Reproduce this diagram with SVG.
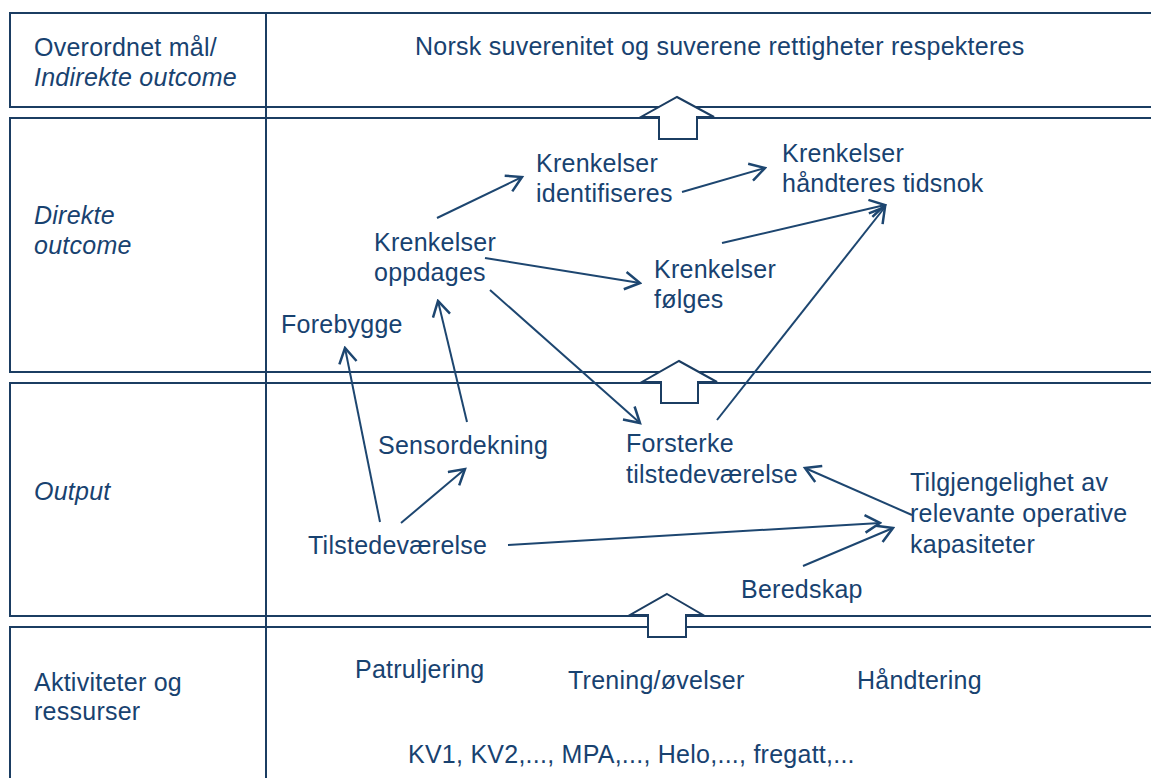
<svg xmlns="http://www.w3.org/2000/svg" width="1151" height="778" viewBox="0 0 1151 778">
<defs>
<style>
.row{fill:none;stroke:#1b3d62;stroke-width:2}
.blk{fill:#fff;stroke:#1b3d62;stroke-width:2;stroke-linejoin:miter}
.t{font-family:"Liberation Sans",Arial,sans-serif;font-size:25px;fill:#184270;letter-spacing:0.25px}
.i{font-style:italic}
.c{fill:none;stroke:#1d4670;stroke-width:2}
</style>
<marker id="ah" markerUnits="userSpaceOnUse" markerWidth="20" markerHeight="20" viewBox="0 0 16 16" refX="14" refY="8" orient="auto">
<path d="M2,1 L14,8 L2,15" fill="none" stroke="#1d4670" stroke-width="2"/>
</marker>
</defs>
<rect width="1151" height="778" fill="#fff"/>
<g id="rows">
<rect class="row" x="10" y="13" width="1160" height="94"/>
<rect class="row" x="10" y="118" width="1160" height="254"/>
<rect class="row" x="10" y="383" width="1160" height="233"/>
<rect class="row" x="10" y="627" width="1160" height="170"/>
<line class="row" x1="266" y1="13" x2="266" y2="778"/>
</g>
<g id="block-arrows">
<path class="blk" d="M677,97 L714,117 L697,117 L697,139 L659,139 L659,117 L641,117 Z"/>
<path class="blk" d="M679,361 L717,382 L698,382 L698,403 L661,403 L661,382 L642,382 Z"/>
<path class="blk" d="M667,594 L703,615 L686,615 L686,637 L648,637 L648,615 L630,615 Z"/>
</g>
<g id="row-labels">
<text class="t" x="34" y="56">Overordnet mål/</text>
<text class="t i" x="34" y="86">Indirekte outcome</text>
<text class="t i" x="34" y="224">Direkte</text>
<text class="t i" x="34" y="254">outcome</text>
<text class="t i" x="34" y="500">Output</text>
<text class="t" x="34" y="691">Aktiviteter og</text>
<text class="t" x="34" y="720">ressurser</text>
</g>
<g id="goal"><text class="t" x="415" y="55">Norsk suverenitet og suverene rettigheter respekteres</text></g>
<g id="identifiseres"><text class="t" x="536" y="172">Krenkelser</text><text class="t" x="536" y="202">identifiseres</text></g>
<g id="handteres"><text class="t" x="782" y="162">Krenkelser</text><text class="t" x="782" y="192">håndteres tidsnok</text></g>
<g id="oppdages"><text class="t" x="374" y="251">Krenkelser</text><text class="t" x="374" y="281">oppdages</text></g>
<g id="folges"><text class="t" x="654" y="278">Krenkelser</text><text class="t" x="654" y="308">følges</text></g>
<g id="forebygge"><text class="t" x="281" y="333">Forebygge</text></g>
<g id="sensordekning"><text class="t" x="378" y="454">Sensordekning</text></g>
<g id="forsterke"><text class="t" x="626" y="452">Forsterke</text><text class="t" x="626" y="483">tilstedeværelse</text></g>
<g id="tilgjengelighet"><text class="t" x="910" y="491">Tilgjengelighet av</text><text class="t" x="910" y="522">relevante operative</text><text class="t" x="910" y="553">kapasiteter</text></g>
<g id="tilstedevaerelse"><text class="t" x="308" y="554">Tilstedeværelse</text></g>
<g id="beredskap"><text class="t" x="741" y="598">Beredskap</text></g>
<g id="patruljering"><text class="t" x="355" y="678">Patruljering</text></g>
<g id="trening"><text class="t" x="568" y="689">Trening/øvelser</text></g>
<g id="handtering"><text class="t" x="857" y="689">Håndtering</text></g>
<g id="ressurser"><text class="t" x="408" y="763">KV1, KV2,..., MPA,..., Helo,..., fregatt,...</text></g>
<g id="connectors">
<line class="c" x1="437" y1="218" x2="522" y2="177" marker-end="url(#ah)"/>
<line class="c" x1="682" y1="192" x2="765" y2="168" marker-end="url(#ah)"/>
<line class="c" x1="485" y1="258" x2="640" y2="283" marker-end="url(#ah)"/>
<line class="c" x1="722" y1="243" x2="885" y2="205" marker-end="url(#ah)"/>
<line class="c" x1="490" y1="290" x2="640" y2="423" marker-end="url(#ah)"/>
<line class="c" x1="717" y1="420" x2="885" y2="207" marker-end="url(#ah)"/>
<line class="c" x1="467" y1="422" x2="438" y2="301" marker-end="url(#ah)"/>
<line class="c" x1="380" y1="522" x2="345" y2="348" marker-end="url(#ah)"/>
<line class="c" x1="401" y1="523" x2="465" y2="469" marker-end="url(#ah)"/>
<line class="c" x1="508" y1="545" x2="880" y2="523" marker-end="url(#ah)"/>
<line class="c" x1="803" y1="566" x2="893" y2="528" marker-end="url(#ah)"/>
<line class="c" x1="912" y1="515" x2="805" y2="468" marker-end="url(#ah)"/>
</g>
</svg>
